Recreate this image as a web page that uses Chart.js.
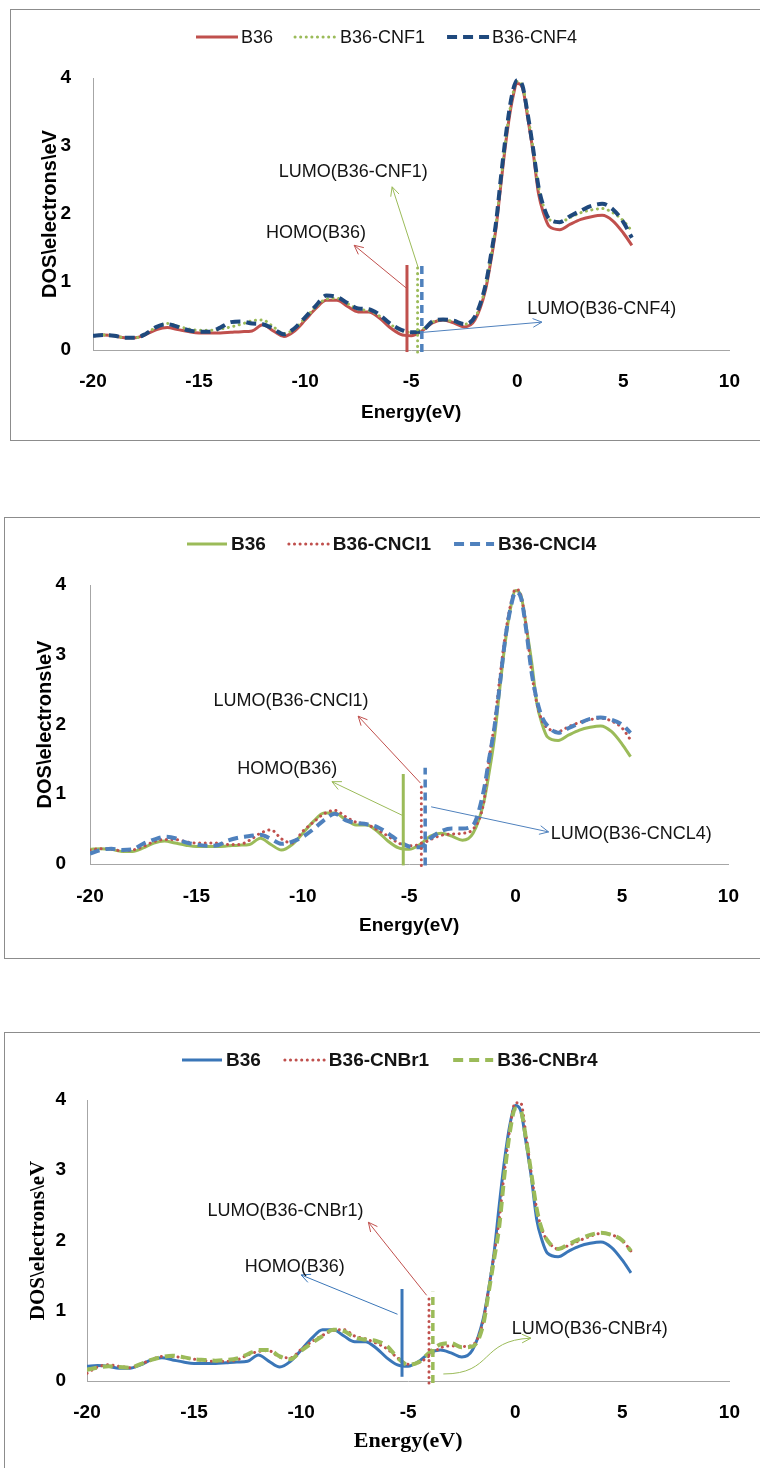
<!DOCTYPE html>
<html>
<head>
<meta charset="utf-8">
<script src="https://cdn.jsdelivr.net/npm/chart.js@4.4.0/dist/chart.umd.min.js"></script>
<style>
  html, body { margin: 0; padding: 0; background: #fff; overflow: hidden; }
  body { width: 760px; height: 1468px; position: relative; }
  .frame { position: absolute; border: 1px solid #8c8c8c; box-sizing: border-box; }
  canvas { position: absolute; left: 0; }
</style>
</head>
<body>
<div class="frame" style="left:10px;top:9px;width:800px;height:432px"></div>
<div class="frame" style="left:4px;top:517px;width:800px;height:442px"></div>
<div class="frame" style="left:4px;top:1032px;width:800px;height:500px"></div>
<canvas id="dosF" width="760" height="431" style="top:9px"></canvas>
<canvas id="dosCl" width="760" height="441" style="top:517px"></canvas>
<canvas id="dosBr" width="760" height="436" style="top:1032px"></canvas>
<script>
// Energy grid (eV) shared by every DOS curve
const energy = [-20,-19.5,-19,-18.5,-18,-17.5,-17,-16.5,-16,-15.5,-15,-14.5,-14,-13.5,-13,-12.5,-12,-11.5,-11,-10.5,-10,-9.5,-9,-8.5,-8,-7.5,-7,-6.5,-6,-5.5,-5,-4.5,-4,-3.5,-3,-2.5,-2,
  -1.5,-1.25,-1,-0.75,-0.5,-0.25,0,0.25,0.5,0.75,1,1.25,1.5,
  2,2.5,3,3.5,4,4.5,5,5.4];

// DOS (electrons/eV)
const b36 = [0.21,0.22,0.21,0.18,0.18,0.23,0.30,0.33,0.30,0.27,0.25,0.25,0.25,0.26,0.27,0.28,0.37,0.28,0.20,0.28,0.44,0.61,0.73,0.73,0.64,0.56,0.56,0.47,0.33,0.23,0.21,0.28,0.40,0.44,0.40,0.34,0.44,
  0.88,1.30,1.80,2.50,3.15,3.65,3.92,3.85,3.40,2.90,2.30,2.00,1.82,
  1.77,1.85,1.92,1.96,1.98,1.90,1.72,1.54];
const cnf1 = [0.21,0.22,0.21,0.18,0.18,0.24,0.34,0.39,0.35,0.31,0.29,0.29,0.31,0.34,0.38,0.43,0.44,0.34,0.24,0.31,0.47,0.63,0.75,0.76,0.68,0.60,0.58,0.50,0.38,0.29,0.26,0.30,0.41,0.44,0.42,0.38,0.47,
  0.92,1.35,1.85,2.55,3.20,3.70,3.95,3.88,3.45,2.95,2.40,2.10,1.92,
  1.88,1.95,2.02,2.06,2.08,2.02,1.90,1.75];
const cnf4 = [0.21,0.22,0.21,0.18,0.18,0.24,0.34,0.38,0.34,0.29,0.27,0.27,0.33,0.41,0.42,0.39,0.38,0.31,0.23,0.32,0.48,0.65,0.80,0.78,0.69,0.61,0.60,0.52,0.39,0.30,0.26,0.28,0.42,0.45,0.43,0.38,0.49,
  0.95,1.38,1.88,2.60,3.25,3.75,3.97,3.88,3.45,2.95,2.40,2.10,1.93,
  1.88,1.97,2.05,2.12,2.15,2.07,1.88,1.65];
const cncl1 = [0.20,0.22,0.21,0.19,0.20,0.25,0.32,0.35,0.35,0.32,0.30,0.30,0.30,0.28,0.28,0.34,0.44,0.49,0.36,0.30,0.47,0.60,0.72,0.77,0.68,0.60,0.57,0.49,0.40,0.30,0.26,0.28,0.35,0.41,0.43,0.44,0.50,
  0.88,1.50,2.00,2.65,3.25,3.70,3.94,3.85,3.40,2.75,2.30,2.05,1.95,
  1.90,1.97,2.03,2.07,2.09,2.05,1.95,1.78];
const cncl4 = [0.15,0.20,0.22,0.20,0.21,0.29,0.35,0.39,0.37,0.31,0.28,0.26,0.27,0.34,0.38,0.40,0.42,0.36,0.29,0.32,0.39,0.50,0.63,0.72,0.63,0.59,0.57,0.53,0.44,0.33,0.25,0.24,0.37,0.47,0.51,0.51,0.56,
  1.05,1.50,1.95,2.55,3.20,3.65,3.90,3.82,3.35,2.75,2.35,2.10,1.98,
  1.88,1.95,2.02,2.08,2.10,2.07,2.00,1.88];
const cnbr1 = [0.11,0.20,0.23,0.21,0.19,0.24,0.30,0.35,0.35,0.33,0.31,0.29,0.28,0.28,0.30,0.37,0.42,0.43,0.34,0.33,0.45,0.56,0.65,0.72,0.73,0.64,0.60,0.54,0.46,0.33,0.24,0.26,0.36,0.47,0.50,0.49,0.51,
  0.85,1.30,1.78,2.30,3.00,3.60,3.96,3.96,3.50,2.95,2.45,2.15,2.00,
  1.88,1.93,2.00,2.06,2.10,2.08,2.00,1.85];
const cnbr4 = [0.16,0.19,0.21,0.20,0.19,0.24,0.30,0.34,0.36,0.34,0.31,0.30,0.29,0.30,0.32,0.38,0.44,0.44,0.35,0.31,0.43,0.54,0.64,0.73,0.71,0.62,0.59,0.57,0.50,0.33,0.23,0.27,0.41,0.52,0.54,0.48,0.49,
  0.80,1.25,1.72,2.20,2.95,3.55,3.88,3.85,3.45,2.95,2.45,2.15,2.00,
  1.88,1.95,2.02,2.08,2.11,2.08,2.00,1.85];

// HOMO / LUMO level markers: energy, bottom and top of each vertical bar
const levelsF = [-5.2, -4.7, -4.5];
const levelLowF = [-0.03, -0.03, -0.03];
const levelTopF = [1.25, 1.25, 1.30];
const levelsCl = [-5.28, -4.43, -4.25];
const levelLowCl = [-0.02, -0.02, -0.02];
const levelTopCl = [1.29, 1.18, 1.38];
const levelsBr = [-5.29, -4.03, -3.85];
const levelLowBr = [0.06, -0.03, -0.03];
const levelTopBr = [1.31, 1.21, 1.27];

const xTicks = [-20, -15, -10, -5, 0, 5, 10];
const yTicks = [0, 1, 2, 3, 4];

const SANS = "'Liberation Sans', Arial, sans-serif";
const SERIF = "'Liberation Serif', 'Times New Roman', serif";
const RED = '#C0504D', GREEN = '#9BBB59', NAVY = '#1F497D', BLUE = '#4F81BD', BLUE2 = '#3A76B8';

function lineStyle(color, kind, level) {
  if (kind === 'dot') return {borderColor: color, borderWidth: 3, borderDash: [0.1, 5.5], borderCapStyle: 'round'};
  if (kind === 'dash') return {borderColor: color, borderWidth: level ? 3.5 : 4, borderDash: level ? [8, 5] : [10, 6], borderCapStyle: 'butt'};
  return {borderColor: color, borderWidth: 3, borderDash: [], borderCapStyle: 'butt'};
}

function arrowHead(ctx, x0, y0, x1, y1) {
  const a = Math.atan2(y1 - y0, x1 - x0), L = 10, w = 0.45;
  ctx.beginPath();
  ctx.moveTo(x1 - L * Math.cos(a - w), y1 - L * Math.sin(a - w));
  ctx.lineTo(x1, y1);
  ctx.lineTo(x1 - L * Math.cos(a + w), y1 - L * Math.sin(a + w));
  ctx.stroke();
}

// Draws legend + HOMO/LUMO call-outs
const panelDecor = {
  id: 'panelDecor',
  afterDatasetsDraw(chart, args, opts) {
    const {ctx} = chart;
    const xs = chart.scales.x, ys = chart.scales.y;
    const px = p => [xs.getPixelForValue(p[0]), ys.getPixelForValue(p[1])];
    ctx.save();

    // call-outs
    ctx.lineWidth = 1;
    ctx.setLineDash([]);
    opts.notes.forEach(n => {
      ctx.strokeStyle = n.color;
      const a = px(n.from), b = px(n.to);
      ctx.beginPath();
      ctx.moveTo(a[0], a[1]);
      if (n.c1) {
        const c1 = px(n.c1), c2 = px(n.c2);
        ctx.bezierCurveTo(c1[0], c1[1], c2[0], c2[1], b[0], b[1]);
        ctx.stroke();
        arrowHead(ctx, c2[0], c2[1], b[0], b[1]);
      } else {
        ctx.lineTo(b[0], b[1]);
        ctx.stroke();
        arrowHead(ctx, a[0], a[1], b[0], b[1]);
      }
      const t = px(n.at);
      ctx.fillStyle = '#141414';
      ctx.font = '18px ' + SANS;
      ctx.textAlign = 'center';
      ctx.textBaseline = 'middle';
      ctx.fillText(n.text, t[0], t[1]);
    });

    // legend
    const lg = opts.legend;
    ctx.font = (lg.bold ? 'bold ' : '') + lg.size + 'px ' + SANS;
    ctx.textAlign = 'left';
    ctx.textBaseline = 'middle';
    let x = lg.x;
    chart.data.datasets.filter(d => !d.isLevel).forEach(d => {
      ctx.strokeStyle = d.borderColor;
      ctx.lineWidth = d.borderWidth;
      ctx.lineCap = d.borderCapStyle;
      ctx.setLineDash(d.borderDash);
      ctx.beginPath();
      ctx.moveTo(x, lg.y);
      ctx.lineTo(x + lg.line, lg.y);
      ctx.stroke();
      x += lg.line + lg.gap;
      ctx.fillStyle = '#141414';
      ctx.fillText(d.label, x, lg.y + 1);
      x += ctx.measureText(d.label).width + lg.space;
    });
    ctx.restore();
  }
};

const panels = [
  {
    id: 'dosF', height: 431,
    area: {left: 93, right: 741, top: 69, bottom: 341},
    names: ['B36', 'B36-CNF1', 'B36-CNF4'],
    series: [b36, cnf1, cnf4],
    colors: [RED, GREEN, NAVY],
    levelColors: [RED, GREEN, BLUE],
    kinds: ['solid', 'dot', 'dash'],
    levels: levelsF, lows: levelLowF, tops: levelTopF,
    titleFont: SANS, yTitleSize: 20, xTitleSize: 19, yTitlePad: 38, xTitlePad: 16,
    yTickPad: 22, xTickPad: 20,
    legend: {x: 196, y: 28, bold: false, size: 18, line: 42, gap: 3, space: 22},
    notes: [
      {text: 'HOMO(B36)', at: [-9.49, 1.72], from: [-5.23, 0.91], to: [-7.69, 1.54], color: RED},
      {text: 'LUMO(B36-CNF1)', at: [-7.73, 2.62], from: [-4.68, 1.22], to: [-5.90, 2.40], color: GREEN},
      {text: 'LUMO(B36-CNF4)', at: [3.98, 0.60], from: [-4.44, 0.26], to: [1.16, 0.41], color: BLUE}
    ]
  },
  {
    id: 'dosCl', height: 441,
    area: {left: 90, right: 747, top: 68, bottom: 347},
    names: ['B36', 'B36-CNCl1', 'B36-CNCl4'],
    series: [b36, cncl1, cncl4],
    colors: [GREEN, RED, BLUE],
    levelColors: [GREEN, RED, BLUE],
    kinds: ['solid', 'dot', 'dash'],
    levels: levelsCl, lows: levelLowCl, tops: levelTopCl,
    titleFont: SANS, yTitleSize: 20, xTitleSize: 19, yTitlePad: 33, xTitlePad: 21,
    yTickPad: 24, xTickPad: 21,
    legend: {x: 187, y: 27, bold: true, size: 19, line: 40, gap: 4, space: 23},
    notes: [
      {text: 'LUMO(B36-CNCl1)', at: [-10.55, 2.34], from: [-4.47, 1.16], to: [-7.40, 2.12], color: RED},
      {text: 'HOMO(B36)', at: [-10.73, 1.36], from: [-5.34, 0.70], to: [-8.63, 1.18], color: GREEN},
      {text: 'LUMO(B36-CNCL4)', at: [5.43, 0.43], from: [-3.97, 0.82], to: [1.55, 0.46], color: BLUE}
    ]
  },
  {
    id: 'dosBr', height: 436,
    area: {left: 87, right: 747, top: 68, bottom: 349},
    names: ['B36', 'B36-CNBr1', 'B36-CNBr4'],
    series: [b36, cnbr1, cnbr4],
    colors: [BLUE2, RED, GREEN],
    levelColors: [BLUE2, RED, GREEN],
    kinds: ['solid', 'dot', 'dash'],
    levels: levelsBr, lows: levelLowBr, tops: levelTopBr,
    titleFont: SERIF, yTitleSize: 21, xTitleSize: 22, yTitlePad: 26, xTitlePad: 13,
    yTickPad: 21, xTickPad: 20,
    legend: {x: 182, y: 28, bold: true, size: 19, line: 40, gap: 4, space: 24},
    notes: [
      {text: 'LUMO(B36-CNBr1)', at: [-10.73, 2.42], from: [-4.14, 1.22], to: [-6.86, 2.26], color: RED},
      {text: 'HOMO(B36)', at: [-10.30, 1.62], from: [-5.5, 0.95], to: [-10.0, 1.51], color: BLUE2},
      {text: 'LUMO(B36-CNBr4)', at: [3.48, 0.74], from: [-3.36, 0.10], c1: [-1.0, 0.10], c2: [-1.68, 0.58], to: [0.73, 0.61], color: GREEN}
    ]
  }
];

function buildDatasets(p) {
  const curves = p.series.map((vals, i) => Object.assign({
    label: p.names[i],
    data: energy.map((e, k) => ({x: e, y: vals[k]})),
    order: 10 - i,
    pointRadius: 0,
    fill: false,
    cubicInterpolationMode: 'monotone'
  }, lineStyle(p.colors[i], p.kinds[i], false)));
  const bars = p.levels.map((e, i) => Object.assign({
    label: '',
    isLevel: true,
    data: [{x: e, y: p.lows[i]}, {x: e, y: p.tops[i]}],
    order: 0,
    pointRadius: 0,
    fill: false,
    clip: false
  }, lineStyle(p.levelColors[i], p.kinds[i], true)));
  return curves.concat(bars);
}

panels.forEach(p => {
  const tickFont = {family: SANS, size: 19, weight: 'bold'};
  new Chart(document.getElementById(p.id), {
    type: 'line',
    data: {datasets: buildDatasets(p)},
    plugins: [panelDecor],
    options: {
      responsive: false,
      animation: false,
      events: [],
      layout: {padding: {left: 0, top: p.area.top, right: 760 - p.area.right, bottom: 0}},
      plugins: {
        legend: {display: false},
        tooltip: {enabled: false},
        panelDecor: {legend: p.legend, notes: p.notes}
      },
      scales: {
        x: {
          type: 'linear', min: -20, max: 10,
          afterBuildTicks: s => { s.ticks = xTicks.map(v => ({value: v})); },
          afterFit: s => { s.height = p.height - p.area.bottom; },
          grid: {display: false, drawTicks: false},
          border: {color: '#A6A6A6', width: 1},
          ticks: {padding: p.xTickPad, color: '#000', font: tickFont, maxRotation: 0, autoSkip: false},
          title: {display: true, text: 'Energy(eV)', color: '#000',
                  font: {family: p.titleFont, size: p.xTitleSize, weight: 'bold'},
                  padding: {top: 0, bottom: p.xTitlePad}}
        },
        y: {
          type: 'linear', min: 0, max: 4,
          afterBuildTicks: s => { s.ticks = yTicks.map(v => ({value: v})); },
          afterFit: s => { s.width = p.area.left; },
          grid: {display: false, drawTicks: false},
          border: {color: '#A6A6A6', width: 1},
          ticks: {padding: p.yTickPad, color: '#000', font: tickFont},
          title: {display: true, text: 'DOS\\electrons\\eV', color: '#000',
                  font: {family: p.titleFont, size: p.yTitleSize, weight: 'bold'},
                  padding: {top: p.yTitlePad, bottom: 0}}
        }
      }
    }
  });
});
</script>
</body>
</html>
